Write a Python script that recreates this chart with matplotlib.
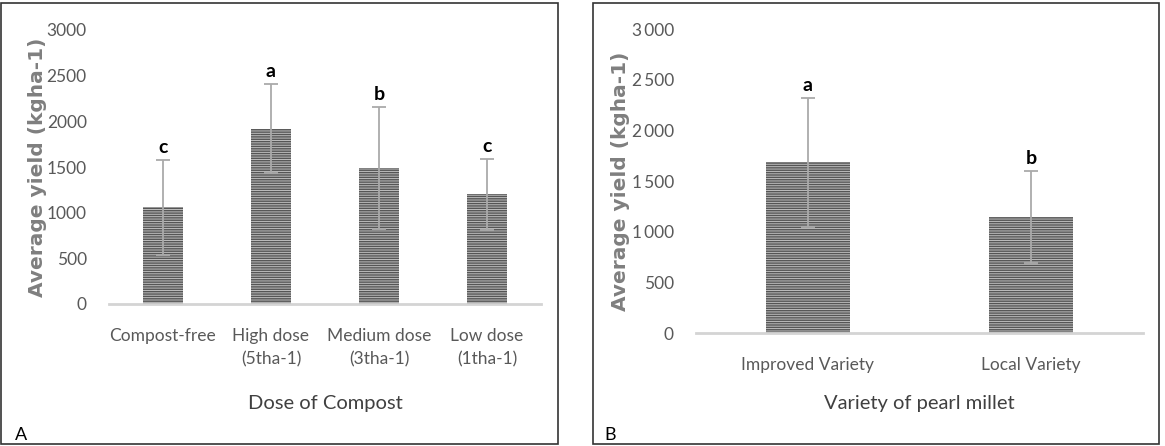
import matplotlib
matplotlib.use("Agg")
import matplotlib.pyplot as plt
from matplotlib import font_manager
from matplotlib.patches import Rectangle
import numpy as np

# ---- data ----
dose_categories = ["Compost-free", "High dose\n(5tha-1)", "Medium dose\n(3tha-1)", "Low dose\n(1tha-1)"]
dose_yield = [1060, 1920, 1490, 1200]
dose_err = [520, 490, 665, 390]
dose_letters = ["c", "a", "b", "c"]

variety_categories = ["Improved Variety", "Local Variety"]
variety_yield = [1685, 1145]
variety_err = [635, 455]
variety_letters = ["a", "b"]

yticks = [0, 500, 1000, 1500, 2000, 2500, 3000]
yticklabels_a = ["0", "500", "1000", "1500", "2000", "2500", "3000"]
yticklabels_b = ["0", "500", "1\u2009000", "1\u2009500", "2\u2009000", "2\u2009500", "3\u2009000"]

# ---- fonts ----
names = {f.name for f in font_manager.fontManager.ttflist}
main_font = "Lato" if "Lato" in names else "Liberation Sans"
fam = [main_font, "DejaVu Sans"]

W, H = 1165, 446
fig = plt.figure(figsize=(W / 100, H / 100), dpi=100)
fig.patch.set_facecolor("white")


def fx(px):
    return px / W


def fy(py):
    return (H - py) / H


# panel borders
for x0, x1 in [(1, 558), (593, 1159)]:
    fig.add_artist(Rectangle((fx(x0), fy(444)), fx(x1) - fx(x0), fy(3) - fy(444),
                             transform=fig.transFigure, fill=False,
                             edgecolor="#333333", linewidth=1.2))

fig.text(fx(15), fy(443), "A", fontsize=13, family=fam, color="black", va="bottom", ha="left")
fig.text(fx(604), fy(443), "B", fontsize=13, family=fam, color="black", va="bottom", ha="left")


def draw(ax, cats, vals, errs, letters, yticklabels, xlabel, xlabel_y, ylabel_x):
    x = np.arange(len(cats))
    ax.bar(x, vals, width=0.376, color="#bdbdbd", edgecolor="#555555",
           linewidth=0, hatch="-------", zorder=2)
    ax.errorbar(x, vals, yerr=errs, fmt="none", ecolor="#aaaaaa",
                elinewidth=1.3, capsize=5, capthick=1.3, zorder=3)
    for xi, v, e, l in zip(x, vals, errs, letters):
        ax.annotate(l, (xi, v + e), xytext=(0, 3), textcoords="offset points",
                    ha="center", va="bottom", fontsize=14, fontweight="bold",
                    family=fam, color="black")
    ax.set_xlim(-0.5, len(cats) - 0.5)
    ax.set_ylim(0, 3000)
    ax.set_yticks(yticks)
    ax.set_yticklabels(yticklabels, fontsize=12.5, family=fam, color="#595959")
    ax.set_xticks(x)
    ax.set_xticklabels(cats, fontsize=12.5, family=fam, color="#595959", linespacing=1.6)
    ax.tick_params(axis="both", length=0)
    ax.tick_params(axis="x", pad=17)
    ax.tick_params(axis="y", pad=16)
    for s in ["top", "right", "left"]:
        ax.spines[s].set_visible(False)
    ax.spines["bottom"].set_color("#d4d4d4")
    ax.spines["bottom"].set_linewidth(2)
    ax.spines["bottom"].set_zorder(4)
    ax.set_facecolor("none")
    xl = ax.set_xlabel(xlabel, fontsize=14.5, family=fam, color="#404040")
    xl.set_verticalalignment("center")
    ax.xaxis.set_label_coords(0.5, xlabel_y)
    yl = ax.set_ylabel("Average yield (kgha-1)", fontsize=14.5, fontweight="bold",
                       family="DejaVu Sans", color="#7f7f7f")
    yl.set_verticalalignment("center")
    ax.yaxis.set_label_coords(ylabel_x, 0.5)


axA = fig.add_axes([fx(109), fy(304), fx(541) - fx(109), fy(30) - fy(304)])
draw(axA, dose_categories, dose_yield, dose_err, dose_letters, yticklabels_a,
     "Dose of Compost", (304 - 404) / 274, (38 - 109) / 432)

axB = fig.add_axes([fx(696), fy(333), fx(1143) - fx(696), fy(29) - fy(333)])
draw(axB, variety_categories, variety_yield, variety_err, variety_letters, yticklabels_b,
     "Variety of pearl millet", (333 - 404) / 304, (621 - 696) / 447)

fig.savefig("out.png", dpi=100, facecolor="white")
